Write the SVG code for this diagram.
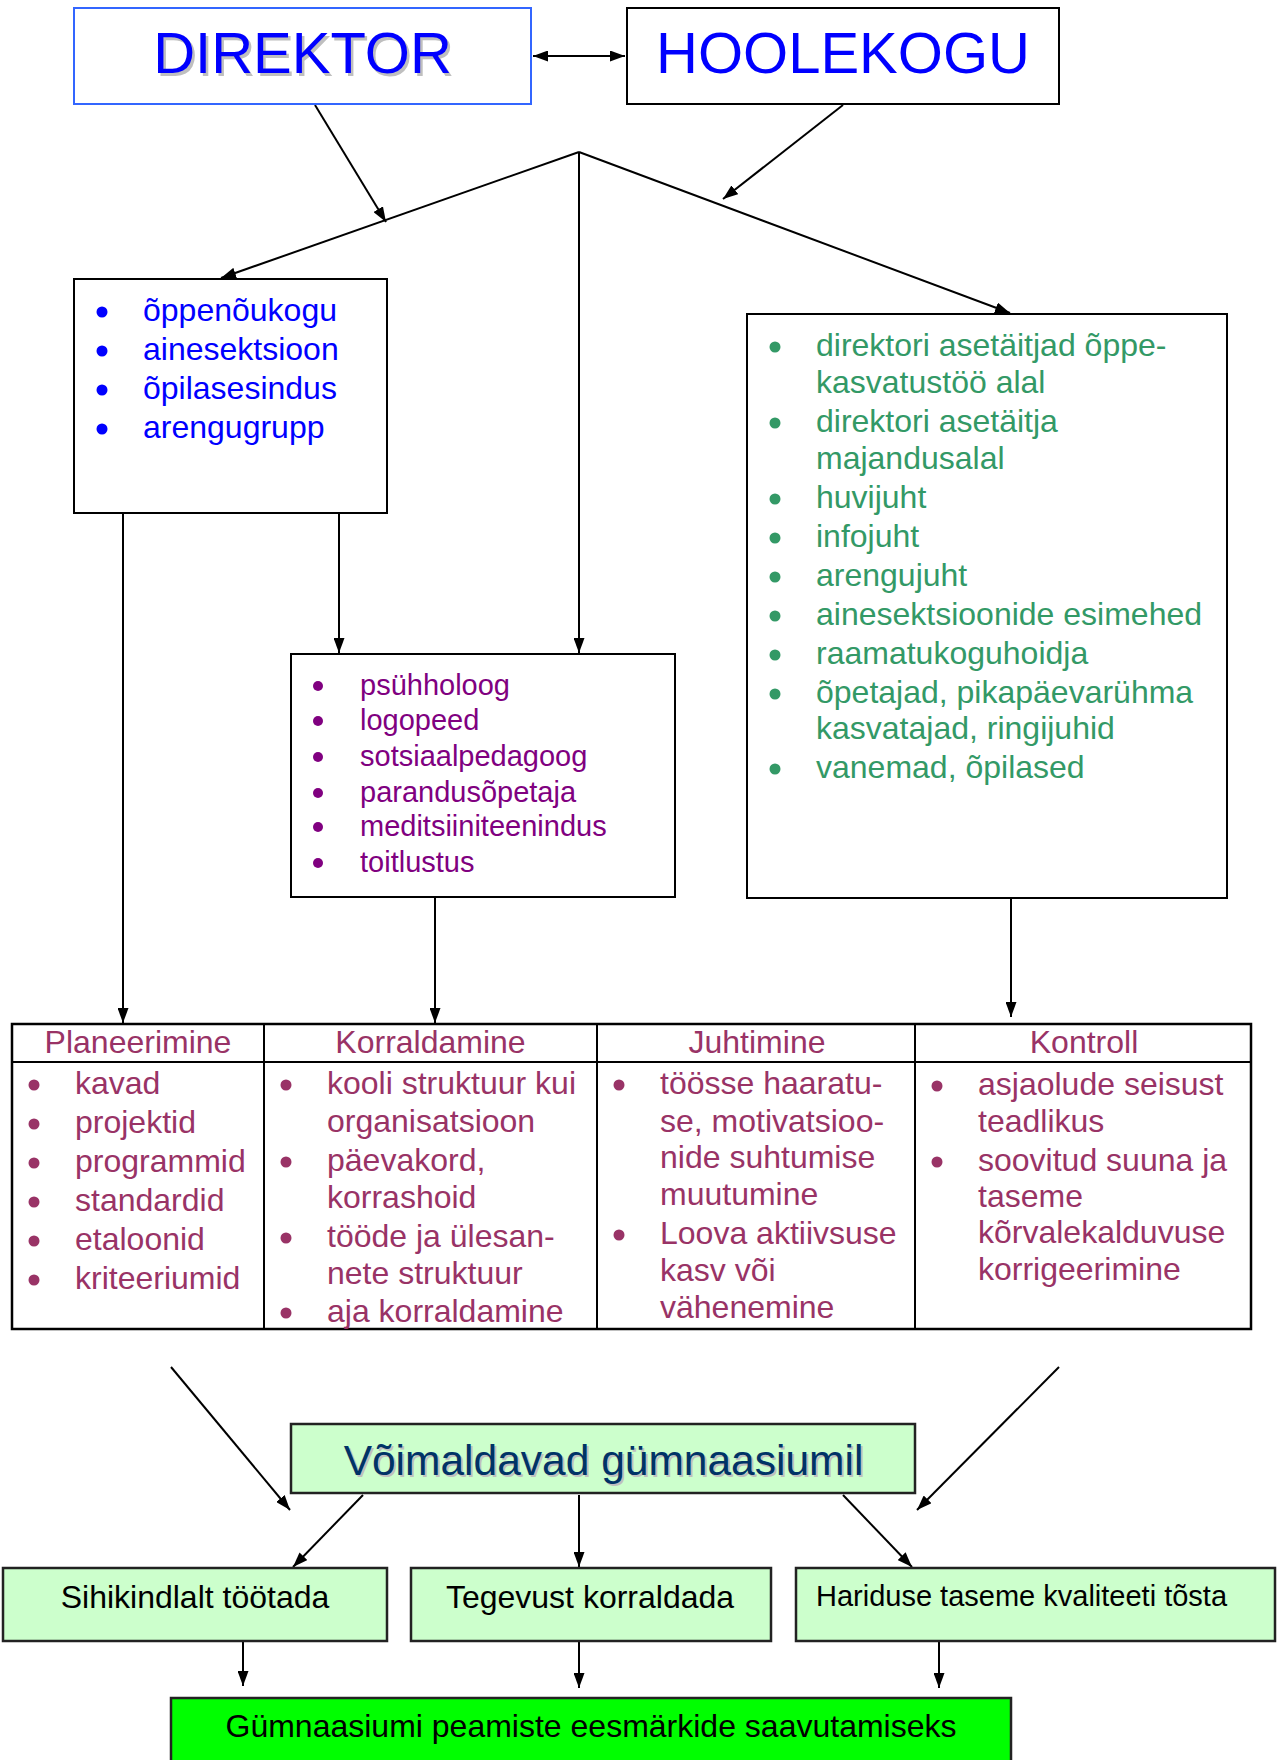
<svg xmlns="http://www.w3.org/2000/svg" width="1283" height="1760" viewBox="0 0 1283 1760">
<defs>
<marker id="ah" markerUnits="userSpaceOnUse" markerWidth="15" markerHeight="11" refX="15" refY="5.5" orient="auto-start-reverse">
<path d="M0,0 L15,5.5 L0,11 z" fill="#000"/>
</marker>
</defs>
<style>
.box{fill:#fff;stroke:#000;stroke-width:2}
.gbox{fill:#CCFFCC;stroke:#222;stroke-width:2.5}
.ln{stroke:#000;stroke-width:2;fill:none}
.ar{stroke:#000;stroke-width:2;fill:none;marker-end:url(#ah)}
text{font-family:"Liberation Sans",Arial,sans-serif}
.big{font-size:58px;fill:#0000FF;text-anchor:middle}
.sh{fill:#BFBFBF}
.blue{font-size:32px;fill:#0000FF}
.pur{font-size:29px;fill:#800080}
.grn{font-size:32px;fill:#339966}
.mar{font-size:32px;fill:#993366}
.hd{font-size:32px;fill:#993366;text-anchor:middle}
.bk{font-size:32px;fill:#000;text-anchor:middle}
.bb{fill:#0000FF}.bp{fill:#800080}.bg{fill:#339966}.bm{fill:#993366}
</style>

<g id="connectors">
<line class="ln" x1="533" y1="56" x2="625" y2="56" marker-start="url(#ah)" marker-end="url(#ah)"/>
<line class="ar" x1="315" y1="105" x2="386" y2="222"/>
<line class="ar" x1="843" y1="105" x2="723" y2="199"/>
<line class="ar" x1="579" y1="152" x2="221" y2="278"/>
<line class="ar" x1="579" y1="152" x2="579" y2="653"/>
<line class="ar" x1="579" y1="152" x2="1010" y2="313"/>
<line class="ar" x1="123" y1="513" x2="123" y2="1023"/>
<line class="ar" x1="339" y1="513" x2="339" y2="653"/>
<line class="ar" x1="435" y1="898" x2="435" y2="1023"/>
<line class="ar" x1="1011" y1="898" x2="1011" y2="1017"/>
<line class="ar" x1="171" y1="1367" x2="290" y2="1510"/>
<line class="ar" x1="1059" y1="1367" x2="917" y2="1510"/>
<line class="ar" x1="363" y1="1495" x2="293" y2="1567"/>
<line class="ar" x1="579" y1="1495" x2="579" y2="1567"/>
<line class="ar" x1="843" y1="1495" x2="912" y2="1567"/>
<line class="ar" x1="243" y1="1641" x2="243" y2="1686"/>
<line class="ar" x1="579" y1="1641" x2="579" y2="1688"/>
<line class="ar" x1="939" y1="1641" x2="939" y2="1688"/>
</g>

<g id="direktor">
<rect x="74" y="8" width="457" height="96" fill="#fff" stroke="#3366FF" stroke-width="2"/>
<text class="big sh" x="305" y="75.5">DIREKTOR</text>
<text class="big" x="302.5" y="73">DIREKTOR</text>
</g>

<g id="hoolekogu">
<rect class="box" x="627" y="8" width="432" height="96"/>
<text class="big" x="843" y="73">HOOLEKOGU</text>
</g>

<g id="noukogud">
<rect class="box" x="74" y="279" width="313" height="234"/>
<circle class="bb" cx="102" cy="312" r="5.5"/>
<circle class="bb" cx="102" cy="351" r="5.5"/>
<circle class="bb" cx="102" cy="390" r="5.5"/>
<circle class="bb" cx="102" cy="429" r="5.5"/>
<text class="blue" x="143" y="321">õppenõukogu</text>
<text class="blue" x="143" y="360">ainesektsioon</text>
<text class="blue" x="143" y="399">õpilasesindus</text>
<text class="blue" x="143" y="438">arengugrupp</text>
</g>

<g id="tugi">
<rect class="box" x="291" y="654" width="384" height="243"/>
<circle class="bp" cx="318" cy="686" r="5"/>
<circle class="bp" cx="318" cy="721" r="5"/>
<circle class="bp" cx="318" cy="757" r="5"/>
<circle class="bp" cx="318" cy="793" r="5"/>
<circle class="bp" cx="318" cy="827" r="5"/>
<circle class="bp" cx="318" cy="863" r="5"/>
<text class="pur" x="360" y="695">psühholoog</text>
<text class="pur" x="360" y="730">logopeed</text>
<text class="pur" x="360" y="766">sotsiaalpedagoog</text>
<text class="pur" x="360" y="802">parandusõpetaja</text>
<text class="pur" x="360" y="836">meditsiiniteenindus</text>
<text class="pur" x="360" y="872">toitlustus</text>
</g>

<g id="personal">
<rect class="box" x="747" y="314" width="480" height="584"/>
<circle class="bg" cx="775" cy="347" r="5.5"/>
<circle class="bg" cx="775" cy="423" r="5.5"/>
<circle class="bg" cx="775" cy="499" r="5.5"/>
<circle class="bg" cx="775" cy="538" r="5.5"/>
<circle class="bg" cx="775" cy="577" r="5.5"/>
<circle class="bg" cx="775" cy="616" r="5.5"/>
<circle class="bg" cx="775" cy="655" r="5.5"/>
<circle class="bg" cx="775" cy="694" r="5.5"/>
<circle class="bg" cx="775" cy="769" r="5.5"/>
<text class="grn" x="816" y="356">direktori asetäitjad õppe-</text>
<text class="grn" x="816" y="393">kasvatustöö alal</text>
<text class="grn" x="816" y="432">direktori asetäitja</text>
<text class="grn" x="816" y="469">majandusalal</text>
<text class="grn" x="816" y="508">huvijuht</text>
<text class="grn" x="816" y="547">infojuht</text>
<text class="grn" x="816" y="586">arengujuht</text>
<text class="grn" x="816" y="625">ainesektsioonide esimehed</text>
<text class="grn" x="816" y="664">raamatukoguhoidja</text>
<text class="grn" x="816" y="703">õpetajad, pikapäevarühma</text>
<text class="grn" x="816" y="739">kasvatajad, ringijuhid</text>
<text class="grn" x="816" y="778">vanemad, õpilased</text>
</g>

<g id="tabel">
<rect x="12" y="1024" width="1239" height="305" fill="#fff" stroke="#000" stroke-width="2.5"/>
<line class="ln" x1="12" y1="1062" x2="1251" y2="1062" stroke-width="2.5"/>
<line class="ln" x1="264" y1="1024" x2="264" y2="1329" stroke-width="2.5"/>
<line class="ln" x1="597" y1="1024" x2="597" y2="1329" stroke-width="2.5"/>
<line class="ln" x1="915" y1="1024" x2="915" y2="1329" stroke-width="2.5"/>
<text class="hd" x="138" y="1053">Planeerimine</text>
<text class="hd" x="430.5" y="1053">Korraldamine</text>
<text class="hd" x="757" y="1053">Juhtimine</text>
<text class="hd" x="1084" y="1053">Kontroll</text>

<circle class="bm" cx="34" cy="1085" r="5.5"/>
<circle class="bm" cx="34" cy="1124" r="5.5"/>
<circle class="bm" cx="34" cy="1163" r="5.5"/>
<circle class="bm" cx="34" cy="1202" r="5.5"/>
<circle class="bm" cx="34" cy="1241" r="5.5"/>
<circle class="bm" cx="34" cy="1280" r="5.5"/>
<text class="mar" x="75" y="1094">kavad</text>
<text class="mar" x="75" y="1133">projektid</text>
<text class="mar" x="75" y="1172">programmid</text>
<text class="mar" x="75" y="1211">standardid</text>
<text class="mar" x="75" y="1250">etaloonid</text>
<text class="mar" x="75" y="1289">kriteeriumid</text>

<circle class="bm" cx="286" cy="1085" r="5.5"/>
<circle class="bm" cx="286" cy="1162" r="5.5"/>
<circle class="bm" cx="286" cy="1238" r="5.5"/>
<circle class="bm" cx="286" cy="1313" r="5.5"/>
<text class="mar" x="327" y="1094">kooli struktuur kui</text>
<text class="mar" x="327" y="1132">organisatsioon</text>
<text class="mar" x="327" y="1171">päevakord,</text>
<text class="mar" x="327" y="1208">korrashoid</text>
<text class="mar" x="327" y="1247">tööde ja ülesan-</text>
<text class="mar" x="327" y="1284">nete struktuur</text>
<text class="mar" x="327" y="1322">aja korraldamine</text>

<circle class="bm" cx="619" cy="1085" r="5.5"/>
<circle class="bm" cx="619" cy="1235" r="5.5"/>
<text class="mar" x="660" y="1094">töösse haaratu-</text>
<text class="mar" x="660" y="1132">se, motivatsioo-</text>
<text class="mar" x="660" y="1168">nide suhtumise</text>
<text class="mar" x="660" y="1205">muutumine</text>
<text class="mar" x="660" y="1244">Loova aktiivsuse</text>
<text class="mar" x="660" y="1281">kasv või</text>
<text class="mar" x="660" y="1318">vähenemine</text>

<circle class="bm" cx="937" cy="1086" r="5.5"/>
<circle class="bm" cx="937" cy="1162" r="5.5"/>
<text class="mar" x="978" y="1095">asjaolude seisust</text>
<text class="mar" x="978" y="1132">teadlikus</text>
<text class="mar" x="978" y="1171">soovitud suuna ja</text>
<text class="mar" x="978" y="1207">taseme</text>
<text class="mar" x="978" y="1243">kõrvalekalduvuse</text>
<text class="mar" x="978" y="1280">korrigeerimine</text>
</g>

<g id="voimaldavad">
<rect class="gbox" x="291" y="1424" width="624" height="69"/>
<text x="605.5" y="1477" font-size="42.5" fill="#BFBFBF" text-anchor="middle">Võimaldavad gümnaasiumil</text>
<text x="603.5" y="1475" font-size="42.5" fill="#003366" text-anchor="middle">Võimaldavad gümnaasiumil</text>
</g>

<g id="sihikindlalt">
<rect class="gbox" x="3" y="1568" width="384" height="73"/>
<text class="bk" x="195" y="1608">Sihikindlalt töötada</text>
</g>

<g id="tegevust">
<rect class="gbox" x="411" y="1568" width="360" height="73"/>
<text class="bk" x="590" y="1608">Tegevust korraldada</text>
</g>

<g id="hariduse">
<rect class="gbox" x="796" y="1568" width="479" height="73"/>
<text x="816" y="1606" font-size="29" fill="#000">Hariduse taseme kvaliteeti tõsta</text>
</g>

<g id="eesmargid">
<rect x="171" y="1698" width="840" height="75" fill="#00FF00" stroke="#222" stroke-width="2.5"/>
<text class="bk" x="591" y="1737">Gümnaasiumi peamiste eesmärkide saavutamiseks</text>
</g>
</svg>
